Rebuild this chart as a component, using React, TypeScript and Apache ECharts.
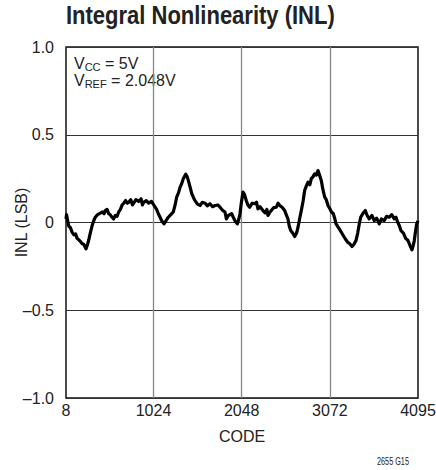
import React, { useEffect, useRef } from "react";
import * as echarts from "echarts";

const FONT = "'Liberation Sans', Arial, sans-serif";

const codes = [
  8, 14, 20, 39, 60, 78, 100, 120, 136, 160, 180, 194, 215, 230, 240, 255, 272, 290, 310, 330,
  348, 375, 406, 430, 450, 464, 485, 504, 520, 542, 560, 580, 600, 620, 640, 660, 678, 700, 720, 736,
  760, 780, 794, 820, 852, 880, 895, 910, 940, 968, 1000, 1030, 1060, 1080, 1100, 1119, 1146, 1170, 1196, 1225,
  1254, 1275, 1293, 1315, 1332, 1350, 1370, 1398, 1415, 1428, 1450, 1468, 1490, 1506, 1535, 1564, 1590, 1622, 1650, 1680,
  1710, 1738, 1770, 1796, 1825, 1854, 1870, 1892, 1932, 1950, 1970, 1997, 2015, 2028, 2043, 2063, 2080, 2101, 2120, 2141,
  2170, 2199, 2220, 2237, 2260, 2295, 2320, 2340, 2353, 2370, 2392, 2420, 2450, 2470, 2489, 2520, 2547, 2565, 2585, 2600,
  2617, 2640, 2663, 2685, 2702, 2720, 2740, 2760, 2779, 2800, 2818, 2840, 2856, 2875, 2895, 2915, 2934, 2952, 2972, 2990,
  3012, 3030, 3050, 3073, 3090, 3112, 3130, 3143, 3160, 3181, 3210, 3239, 3260, 3279, 3300, 3329, 3350, 3375, 3395, 3413,
  3430, 3453, 3483, 3505, 3529, 3560, 3587, 3615, 3645, 3670, 3703, 3730, 3761, 3790, 3820, 3840, 3859, 3880, 3897, 3925,
  3955, 3975, 3994, 4010, 4025, 4040, 4052, 4066, 4080, 4095,
];

const inl = [
  0.02, 0.045, 0.03, -0.02, -0.03, -0.055, -0.07, -0.065, -0.09, -0.1, -0.11, -0.12, -0.125, -0.14, -0.15, -0.13, -0.1, -0.06, -0.02, 0.01,
  0.03, 0.045, 0.053, 0.06, 0.05, 0.068, 0.075, 0.05, 0.045, 0.03, 0.02, 0.04, 0.035, 0.06, 0.075, 0.1, 0.11, 0.125, 0.11, 0.115,
  0.13, 0.1, 0.11, 0.13, 0.12, 0.135, 0.1, 0.115, 0.125, 0.11, 0.12, 0.097, 0.075, 0.05, 0.03, 0.01, -0.008, 0.01, 0.03, 0.045,
  0.06, 0.1, 0.145, 0.17, 0.2, 0.22, 0.25, 0.275, 0.26, 0.24, 0.2, 0.165, 0.14, 0.125, 0.105, 0.097, 0.115, 0.11, 0.095, 0.107,
  0.09, 0.097, 0.1, 0.087, 0.07, 0.06, 0.02, 0.04, 0.05, 0.03, 0.01, -0.008, 0.02, 0.05, 0.11, 0.173, 0.16, 0.125, 0.1, 0.087,
  0.11, 0.107, 0.115, 0.078, 0.09, 0.068, 0.055, 0.075, 0.04, 0.055, 0.068, 0.085, 0.087, 0.11, 0.097, 0.085, 0.068, 0.045, 0.02, -0.02,
  -0.046, -0.06, -0.08, -0.06, -0.027, 0.02, 0.068, 0.12, 0.182, 0.21, 0.23, 0.215, 0.25, 0.26, 0.277, 0.27, 0.296, 0.27, 0.24, 0.19,
  0.144, 0.13, 0.097, 0.078, 0.06, 0.05, 0.02, -0.008, -0.02, -0.036, -0.06, -0.084, -0.1, -0.112, -0.12, -0.137, -0.125, -0.103, -0.06, -0.008,
  0.03, 0.05, 0.068, 0.04, 0.021, 0.04, 0.011, 0.025, -0.008, 0.02, 0.011, 0.035, 0.03, 0.045, 0.021, 0.03, 0.002, -0.02, -0.046, -0.06,
  -0.093, -0.1, -0.12, -0.14, -0.156, -0.13, -0.103, -0.05, -0.008, 0.01,
];

const xTicks = [8, 1024, 2048, 3072, 4095];
const xGrid = [1024, 2048, 3072];

const titleText = "Integral Nonlinearity (INL)";
const xName = "CODE";
const yName = "INL (LSB)";
const footnote = "2655 G15";

function measure(text: string, font: string): number {
  const c = document.createElement("canvas").getContext("2d");
  if (!c) return text.length * 8;
  c.font = font;
  return c.measureText(text).width;
}

export default function App() {
  const ref = useRef<HTMLDivElement>(null);
  useEffect(() => {
    if (!ref.current) return;
    const chart = echarts.init(ref.current, null, { renderer: "svg" });
    const data = codes.map((c, i) => [c, inl[i]]);

    const titleW = measure(titleText, `bold 25px ${FONT}`);
    const titleScale = 269 / titleW;
    const footW = measure(footnote, `11px ${FONT}`);
    const footScale = 32 / footW;

    const main = 16;
    const sub = 11;
    const vW = measure("V", `${main}px ${FONT}`);
    const ccW = measure("CC", `${sub}px ${FONT}`);
    const refW = measure("REF", `${sub}px ${FONT}`);
    const ax = 74;
    const l1 = 55;
    const l2 = 72;
    const tx = (text: string, x: number, y: number, size: number) => ({
      type: "text",
      x,
      y,
      style: { text, fontFamily: FONT, fontSize: size, fill: "#222", textVerticalAlign: "top" },
    });

    chart.setOption({
      animation: false,
      backgroundColor: "#fff",
      grid: {
        left: 66,
        right: 18,
        top: 47,
        bottom: 72,
        show: true,
        borderColor: "#111",
        borderWidth: 1.5,
        outerBoundsMode: "none",
        containLabel: false,
      },
      xAxis: {
        type: "value",
        min: 8,
        max: 4095,
        name: xName,
        nameLocation: "middle",
        nameGap: 30,
        nameMoveOverlap: false,
        nameTextStyle: { fontFamily: FONT, fontSize: 16, color: "#222" },
        axisLine: { show: false },
        axisTick: { show: false },
        splitLine: { show: false },
        axisLabel: {
          customValues: xTicks,
          showMinLabel: true,
          showMaxLabel: true,
          margin: 4,
          fontFamily: FONT,
          fontSize: 16,
          color: "#222",
          formatter: (v: number) => String(Math.round(v)),
        },
      },
      yAxis: {
        type: "value",
        min: -1,
        max: 1,
        interval: 0.5,
        name: yName,
        nameLocation: "middle",
        nameGap: 37,
        nameMoveOverlap: false,
        nameTextStyle: { fontFamily: FONT, fontSize: 16, color: "#222" },
        axisLine: { show: false },
        axisTick: { show: false },
        splitLine: { show: true, lineStyle: { color: "#333", width: 1 } },
        axisLabel: {
          margin: 12,
          fontFamily: FONT,
          fontSize: 16,
          color: "#222",
          formatter: (v: number) => (v === 0 ? "0" : v.toFixed(1).replace("-", "\u2013")),
        },
      },
      series: [
        {
          type: "line",
          data,
          showSymbol: false,
          symbol: "none",
          lineStyle: { color: "#000", width: 3.2, join: "round" },
          markLine: {
            silent: true,
            symbol: "none",
            label: { show: false },
            lineStyle: { color: "#888", width: 1.3, type: "solid" },
            data: xGrid.map((x) => ({ xAxis: x })),
            z: 1,
          },
          z: 3,
        },
      ],
      graphic: [
        {
          type: "text",
          x: 66,
          y: 3,
          scaleX: titleScale,
          style: { text: titleText, fontFamily: FONT, fontSize: 25, fontWeight: "bold", fill: "#222", textVerticalAlign: "top" },
        },
        tx("V", ax, l1, main),
        tx("CC", ax + vW, l1 + 6, sub),
        tx(" = 5V", ax + vW + ccW, l1, main),
        tx("V", ax, l2, main),
        tx("REF", ax + vW, l2 + 6, sub),
        tx(" = 2.048V", ax + vW + refW, l2, main),
        {
          type: "text",
          x: 377,
          y: 456,
          scaleX: footScale,
          style: { text: footnote, fontFamily: FONT, fontSize: 11, fill: "#222", textVerticalAlign: "top" },
        },
      ],
    });
    return () => chart.dispose();
  }, []);
  return <div ref={ref} style={{ position: "absolute", left: 0, top: 0, width: 436, height: 470 }} />;
}
